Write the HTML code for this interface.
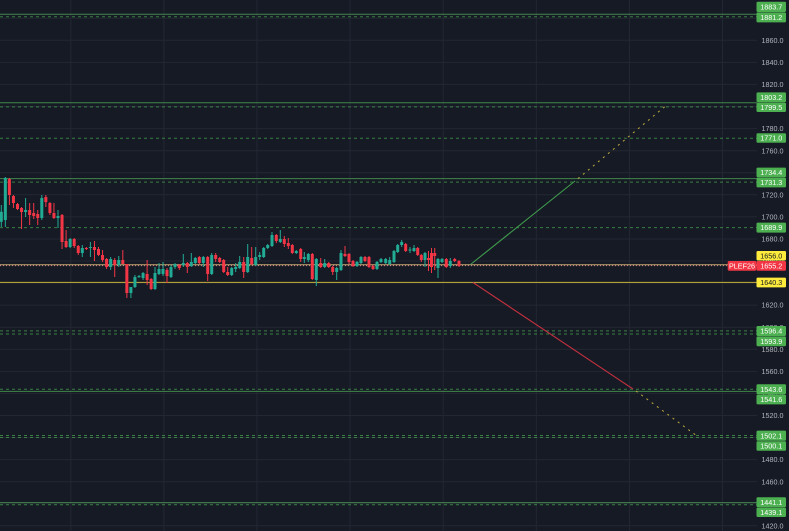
<!DOCTYPE html>
<html><head><meta charset="utf-8"><style>
html,body{margin:0;padding:0;background:#161a25;overflow:hidden;width:789px;height:531px}
svg{display:block}
text{font-family:"Liberation Sans",sans-serif;font-size:7.2px}
</style></head><body>
<svg width="789" height="531" viewBox="0 0 789 531" xmlns="http://www.w3.org/2000/svg">
<rect x="0" y="0" width="789" height="531" fill="#161a25"/>
<!-- grid -->
<g stroke="#232733" stroke-width="1" fill="none">
<path d="M0 18.2H757M0 40.3H757M0 62.4H757M0 84.4H757M0 106.5H757M0 128.6H757M0 150.7H757M0 172.7H757M0 194.8H757M0 216.9H757M0 239H757M0 261H757M0 283.1H757M0 305.1H757M0 327.2H757M0 349.3H757M0 371.4H757M0 393.4H757M0 415.5H757M0 437.6H757M0 459.6H757M0 481.7H757M0 503.8H757M0 525.8H757"/>
<path d="M70.8 0V531M163.9 0V531M257 0V531M350 0V531M443.2 0V531M536.3 0V531M629.4 0V531M722.5 0V531"/>
</g>
<!-- horizontal levels -->
<g fill="none" stroke-width="1">
<path stroke="#4a9a52" stroke-opacity="0.85" d="M0 14.2H757M0 102.8H757M0 178.6H757M0 391.4H757M0 502.6H757"/>
<path stroke="#46a04e" stroke-opacity="0.75" stroke-dasharray="3 3" d="M0 16.8H757M0 106.9H757M0 138.3H757M0 182.1H757M0 227.6H757M0 330.9H757M0 334H757M0 389.3H757M0 435.5H757M0 437.5H757M0 504.7H757"/>
<path stroke="#e6c27a" stroke-opacity="0.85" d="M0 264.8H757"/>
<path stroke="#ff9aa4" stroke-opacity="0.8" stroke-dasharray="1 2" d="M0 265.6H757"/>
<path stroke="#c9b13a" d="M0 282.4H757"/>
</g>
<!-- candles -->
<g stroke="#22ab94" stroke-width="1" fill="none">
<path d="M1.3 205V227M5.35 177V227M25.6 198V217M41.8 195V220M58 210V228M70.15 238V248M82.3 245V257M90.4 242V257M110.65 257V270M118.75 256V267M130.9 287V298M134.95 275V288M139 275V278M143.05 272V280M155 267V290M159 263V275M163 262V276M171 265V278M175 263V269M183.3 254V267M191.3 253V267M195.3 257V264M203.3 256V267M211.7 253V275M231.7 267V276M235.7 263V272M239.7 256V269M247.7 244V273M255.7 247V266M259.7 252V260M263.7 247V258M267.7 244V249M272 232V247M280.3 230V243M296.3 250V254M304.3 252V263M308.3 253V262M316.3 258V286M324.7 259V268M336.7 267V280M341 250V271M357 261V267M361 256V264M377 261V270M381 258V263M385.7 258V264M389.7 257V265M394 250V263M397.7 244V253M401.7 240V247M410 247V253M414 245V252M425 252V267M438 258V278M442 258V263M450.3 258V268"/>
</g>
<path fill="#22ab94" d="M-0.2 211.7h3v10h-3zM3.85 178h3v42h-3zM24.1 210h3v2h-3zM40.3 198h3v20h-3zM56.5 216h3v2h-3zM68.65 239h3v8h-3zM80.8 248h3v5h-3zM88.9 247h3v1h-3zM109.15 259h3v8h-3zM117.25 260h3v5h-3zM129.4 287h3v6h-3zM133.45 277h3v10h-3zM137.5 276h3v1h-3zM141.55 273h3v5h-3zM153.5 273h3v16h-3zM157.5 269h3v5h-3zM161.5 269h3v5h-3zM169.5 267h3v10h-3zM173.5 264h3v3h-3zM181.8 263h3v2h-3zM189.8 262h3v4h-3zM193.8 258h3v5h-3zM201.8 257h3v6h-3zM210.2 255h3v19h-3zM230.2 268h3v7h-3zM234.2 267h3v2h-3zM238.2 262h3v6h-3zM246.2 257h3v15h-3zM254.2 257h3v8h-3zM258.2 255h3v2h-3zM262.2 248h3v9h-3zM266.2 245h3v3h-3zM270.5 235h3v11h-3zM278.8 239h3v3h-3zM294.8 251h3v2h-3zM302.8 257h3v2h-3zM306.8 254h3v6h-3zM314.8 259h3v21h-3zM323.2 263h3v4h-3zM335.2 268h3v4h-3zM339.5 253h3v17h-3zM355.5 262h3v4h-3zM359.5 257h3v6h-3zM375.5 262h3v7h-3zM379.5 259h3v3h-3zM384.2 259h3v4h-3zM388.2 260h3v4h-3zM392.5 251h3v11h-3zM396.2 245h3v7h-3zM400.2 242h3v3h-3zM408.5 249.5h3v1h-3zM412.5 248h3v3h-3zM423.5 253h3v7h-3zM436.5 259h3v9h-3zM440.5 259h3v3h-3zM448.8 261h3v5h-3z"/>
<g stroke="#f23645" stroke-width="1" fill="none">
<path d="M9.4 178V205M13.45 195V208M17.5 203V210M21.55 207V229M29.65 203V225M33.7 203V219M37.75 210V225M45.85 195V207M49.9 202V215M53.95 203V219M62.05 214V249M66.1 230V248M74.2 238V248M78.25 245V255M86.35 247V250M94.45 241V261M98.5 247V256M102.55 250V262M106.6 258V269M114.7 258V277M122.8 250V264M126.85 264V298M147.1 260V285M151.15 278V290M167 268V283M179.3 264V270M187.3 262V273M199.3 256V264M207.7 256V281M215.7 253V262M219.7 257V263M223.7 259V273M227.7 267V276M243.7 257V278M251.7 247V265M276.3 234V243M284.3 236V247M288.3 238V249M292.3 244V254M300.7 248V262M312.3 253V280M320.7 258V268M328.7 262V268M332.7 266V275M345 246V257M349 253V264M353 260V267M365 256V262M369 256V268M373 265V270M405.7 243V252M417.7 247V256M421.3 254V262M428.5 251V271M431.5 248V273M434.7 248V270M446.3 258V268M454.7 258V262M459 260V267"/>
</g>
<path fill="#f23645" d="M7.9 179h3v16h-3zM11.95 196h3v7h-3zM16 204h3v5h-3zM20.05 208h3v4h-3zM28.15 210h3v5h-3zM32.2 213h3v3h-3zM36.25 214h3v4h-3zM44.35 197h3v5h-3zM48.4 203h3v10h-3zM52.45 213h3v5h-3zM60.55 215h3v27h-3zM64.6 241h3v6h-3zM72.7 239h3v7h-3zM76.75 246h3v7h-3zM84.85 248h3v1h-3zM92.95 247h3v3h-3zM97 249h3v6h-3zM101.05 255h3v5h-3zM105.1 259h3v8h-3zM113.2 260h3v5h-3zM121.3 260h3v4h-3zM125.35 264h3v29h-3zM145.6 274h3v6h-3zM149.65 279h3v10h-3zM165.5 270h3v6h-3zM177.8 265h3v3h-3zM185.8 263h3v4h-3zM197.8 257h3v6h-3zM206.2 257h3v17h-3zM214.2 255h3v4h-3zM218.2 258h3v4h-3zM222.2 260h3v12h-3zM226.2 272h3v3h-3zM242.2 262h3v10h-3zM250.2 258h3v6h-3zM274.8 235h3v6h-3zM282.8 239h3v5h-3zM286.8 243h3v3h-3zM290.8 245h3v8h-3zM299.2 249h3v10h-3zM310.8 254h3v25h-3zM319.2 263h3v4h-3zM327.2 263h3v4h-3zM331.2 267h3v5h-3zM343.5 254h3v2h-3zM347.5 254h3v8h-3zM351.5 261h3v5h-3zM363.5 257h3v4h-3zM367.5 257h3v10h-3zM371.5 266h3v3h-3zM404.2 244h3v7h-3zM416.2 248h3v7h-3zM419.8 255h3v5h-3zM427 258h3v2h-3zM430 253h3v14h-3zM433.2 253h3v3h-3zM444.8 259h3v8h-3zM453.2 259h3v2h-3zM457.5 261h3v5h-3z"/>
<!-- projections -->
<g fill="none" stroke-width="1.1">
<path stroke="#3f9a4c" d="M470.5 264.5L575 181"/>
<path stroke="#b3a23c" stroke-dasharray="2 4.5" d="M578 178.6L668 104"/>
<path stroke="#c2303f" d="M473 282.5L633 389"/>
<path stroke="#b3a23c" stroke-dasharray="2 4.5" d="M636 391L697 436"/>
</g>
<!-- axis tick labels -->
<g fill="#b2b5be">
<text x="761.5" y="20.8">1880.0</text>
<text x="761.5" y="42.9">1860.0</text>
<text x="761.5" y="65">1840.0</text>
<text x="761.5" y="87">1820.0</text>
<text x="761.5" y="109.1">1800.0</text>
<text x="761.5" y="131.2">1780.0</text>
<text x="761.5" y="153.3">1760.0</text>
<text x="761.5" y="175.3">1740.0</text>
<text x="761.5" y="197.4">1720.0</text>
<text x="761.5" y="219.5">1700.0</text>
<text x="761.5" y="241.6">1680.0</text>
<text x="761.5" y="263.6">1660.0</text>
<text x="761.5" y="285.7">1640.0</text>
<text x="761.5" y="307.7">1620.0</text>
<text x="761.5" y="329.8">1600.0</text>
<text x="761.5" y="351.9">1580.0</text>
<text x="761.5" y="374">1560.0</text>
<text x="761.5" y="396">1540.0</text>
<text x="761.5" y="418.1">1520.0</text>
<text x="761.5" y="440.2">1500.0</text>
<text x="761.5" y="462.2">1480.0</text>
<text x="761.5" y="484.3">1460.0</text>
<text x="761.5" y="506.4">1440.0</text>
<text x="761.5" y="528.4">1420.0</text>
</g>
<!-- label boxes -->
<g fill="#4caf50">
<rect x="756.5" y="1.8" width="29.5" height="10.2" rx="1.2"/>
<rect x="756.5" y="12.4" width="29.5" height="10" rx="1.2"/>
<rect x="756.5" y="92.4" width="29.5" height="9.8" rx="1.2"/>
<rect x="756.5" y="102.6" width="29.5" height="9.4" rx="1.2"/>
<rect x="756.5" y="133.2" width="29.5" height="9.6" rx="1.2"/>
<rect x="756.5" y="167.6" width="29.5" height="9.6" rx="1.2"/>
<rect x="756.5" y="177.6" width="29.5" height="9.8" rx="1.2"/>
<rect x="756.5" y="222.6" width="29.5" height="10" rx="1.2"/>
<rect x="756.5" y="326" width="29.5" height="10" rx="1.2"/>
<rect x="756.5" y="336.4" width="29.5" height="9.8" rx="1.2"/>
<rect x="756.5" y="384.2" width="29.5" height="10" rx="1.2"/>
<rect x="756.5" y="394.6" width="29.5" height="9.8" rx="1.2"/>
<rect x="756.5" y="430.6" width="29.5" height="10.2" rx="1.2"/>
<rect x="756.5" y="441.2" width="29.5" height="9.6" rx="1.2"/>
<rect x="756.5" y="497.2" width="29.5" height="10" rx="1.2"/>
<rect x="756.5" y="507.6" width="29.5" height="9.4" rx="1.2"/>
</g>
<rect x="756.5" y="251" width="29.5" height="9.5" rx="1.2" fill="#ffeb3b"/>
<rect x="756.5" y="261" width="29.5" height="9.7" rx="1.2" fill="#f23645"/>
<rect x="727.7" y="261" width="28.6" height="9.7" rx="1.2" fill="#f23645"/>
<rect x="756.5" y="277.6" width="29.5" height="9.8" rx="1.2" fill="#ffeb3b"/>
<g fill="#ffffff" text-anchor="middle">
<text x="771.3" y="9.6">1883.7</text>
<text x="771.3" y="20">1881.2</text>
<text x="771.3" y="99.9">1803.2</text>
<text x="771.3" y="109.9">1799.5</text>
<text x="771.3" y="140.6">1771.0</text>
<text x="771.3" y="175">1734.4</text>
<text x="771.3" y="185.1">1731.3</text>
<text x="771.3" y="230.2">1689.9</text>
<text x="771.3" y="268.5">1655.2</text>
<text x="742" y="268.5">PLEF26</text>
<text x="771.3" y="333.6">1596.4</text>
<text x="771.3" y="343.9">1593.9</text>
<text x="771.3" y="391.8">1543.6</text>
<text x="771.3" y="402.1">1541.6</text>
<text x="771.3" y="438.3">1502.1</text>
<text x="771.3" y="448.6">1500.1</text>
<text x="771.3" y="504.8">1441.1</text>
<text x="771.3" y="514.9">1439.1</text>
</g>
<g fill="#131722" text-anchor="middle">
<text x="771.3" y="258.4">1656.0</text>
<text x="771.3" y="285.1">1640.3</text>
</g>
</svg>
</body></html>
